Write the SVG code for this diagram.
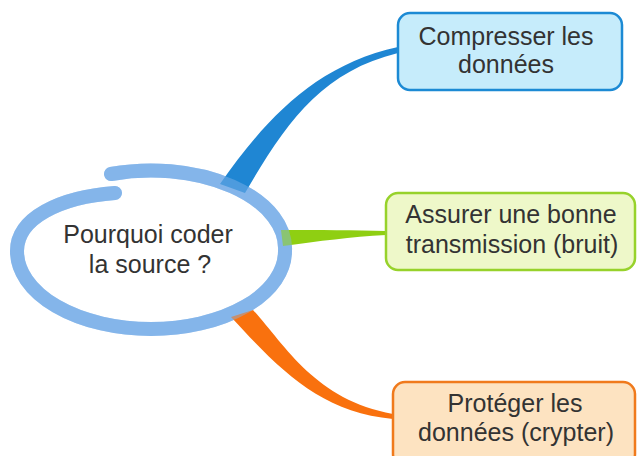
<svg xmlns="http://www.w3.org/2000/svg" width="638" height="456" viewBox="0 0 638 456">
  <style>
    .lbl { font-family: "Liberation Sans", Arial, sans-serif; font-size: 25px; fill: #333333; text-anchor: middle; }
    .ring { fill: none; stroke: #84b5ea; stroke-width: 14; stroke-linecap: round; }
    .box { stroke-width: 2.5; }
  </style>
  <defs>
    <path id="ringPath" d="M111,174 A134,78 0 0 1 285,251 A134,78 0 0 1 151,329 A134,78 0 0 1 17,251 C17,218 60,197 115,193"/>
  </defs>

  <rect width="638" height="456" fill="#ffffff"/>

  <!-- central topic ring (under the branches) -->
  <use href="#ringPath" class="ring"/>

  <!-- tapered branches -->
  <g id="connectors">
    <path d="M220,184 C265,120 315,65 398,47 L398,53 C320,72 285,125 245,193 Z" fill="#1f86d3"/>
    <path d="M281,230 C320,230 355,230 386,231 L386,235 C350,237 320,241 283,246 Z" fill="#8fcf12"/>
    <path d="M253,310 C285,345 315,400 393,414 L393,419 C320,412 280,370 231,317 Z" fill="#f9710e"/>
  </g>

  <!-- ring glazed over the branch roots -->
  <use href="#ringPath" class="ring" opacity="0.45"/>

  <g id="center">
    <text class="lbl" x="148" y="243">Pourquoi coder</text>
    <text class="lbl" x="150" y="273">la source ?</text>
  </g>

  <g id="node-compresser">
    <rect class="box" x="398" y="13" width="224" height="77" rx="12" fill="#c6ecfb" stroke="#1c8ad4"/>
    <text class="lbl" x="506" y="45">Compresser les</text>
    <text class="lbl" x="506" y="73">données</text>
  </g>

  <g id="node-transmission">
    <rect class="box" x="386" y="193" width="249" height="77" rx="12" fill="#eef8c9" stroke="#97d22b"/>
    <text class="lbl" x="511" y="223">Assurer une bonne</text>
    <text class="lbl" x="512" y="253">transmission (bruit)</text>
  </g>

  <g id="node-proteger">
    <rect class="box" x="393" y="382" width="242" height="84" rx="12" fill="#fde3c1" stroke="#f07a1c"/>
    <text class="lbl" x="515" y="412">Protéger les</text>
    <text class="lbl" x="516" y="441">données (crypter)</text>
  </g>
</svg>
